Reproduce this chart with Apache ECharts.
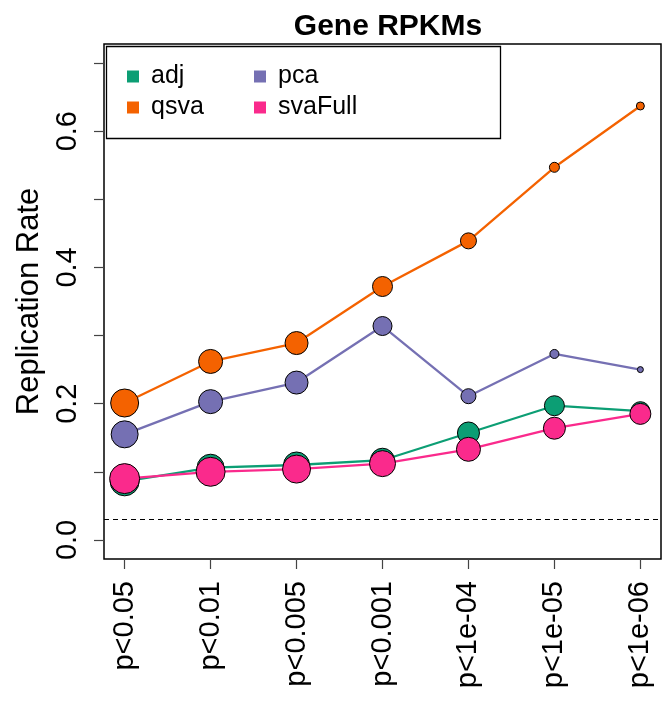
<!DOCTYPE html>
<html>
<head>
<meta charset="utf-8">
<script src="https://cdn.jsdelivr.net/npm/echarts@6/dist/echarts.min.js"></script>
<style>html,body{margin:0;padding:0;background:#fff}#c{width:667px;height:705px}</style>
</head>
<body>
<div id="c"></div>
<script>
const categories = ['p<0.05','p<0.01','p<0.005','p<0.001','p<1e-04','p<1e-05','p<1e-06'];
const adj     = [0.086, 0.106, 0.110, 0.117, 0.157, 0.197, 0.189];
const qsva    = [0.201, 0.262, 0.289, 0.372, 0.439, 0.547, 0.637];
const pca     = [0.155, 0.203, 0.231, 0.314, 0.211, 0.273, 0.250];
const svaFull = [0.090, 0.100, 0.104, 0.112, 0.133, 0.164, 0.185];
const adjSizes     = [29, 27, 26, 24, 22, 20, 19];
const qsvaSizes    = [28, 24, 23, 20, 16, 10, 8];
const pcaSizes     = [27, 24, 23, 19, 15, 9, 6];
const svaFullSizes = [30, 29, 28, 26, 24, 22, 21];
const yTicks = [0, 0.1, 0.2, 0.3, 0.4, 0.5, 0.6, 0.7];
const yLabels = [0, 0.2, 0.4, 0.6];
const nullLevel = 0.025;

const colors = {adj:'#0C9E74', qsva:'#F46200', pca:'#7570B3', svaFull:'#FA2A8C'};
const FONT = 'Liberation Sans, Arial, Helvetica, sans-serif';

function mk(name, vals, sizes) {
  return {
    name: name, type: 'line',
    data: vals.map((v, i) => [i, v]),
    symbol: 'circle',
    symbolSize: (val, p) => sizes[p.dataIndex],
    lineStyle: {color: colors[name], width: 2.3},
    itemStyle: {color: colors[name], borderColor: '#000', borderWidth: 1},
    emphasis: {disabled: true},
    clip: false
  };
}

const series = [
  mk('adj', adj, adjSizes),
  mk('qsva', qsva, qsvaSizes),
  mk('pca', pca, pcaSizes),
  mk('svaFull', svaFull, svaFullSizes)
];
series[0].markLine = {
  silent: true, symbol: 'none', label: {show: false},
  lineStyle: {color: '#000', type: [5, 4], width: 1.2},
  data: [{yAxis: nullLevel}]
};

const legendCommon = {
  orient: 'vertical', top: 59,
  itemWidth: 12, itemHeight: 12, itemGap: 6, icon: 'rect',
  itemStyle: {borderWidth: 0},
  textStyle: {fontFamily: FONT, fontSize: 25, color: '#000', padding: [0, 0, 0, 7]},
  selectedMode: false
};

const chart = echarts.init(document.getElementById('c'), null, {renderer: 'canvas'});
chart.setOption({
  animation: false,
  backgroundColor: '#fff',
  title: {
    text: 'Gene RPKMs', left: 383, top: 7, textAlign: 'center',
    textStyle: {fontFamily: FONT, fontWeight: 'bold', fontSize: 30, color: '#000'}
  },
  legend: [
    Object.assign({}, legendCommon, {data: ['adj', 'qsva'], left: 122}),
    Object.assign({}, legendCommon, {data: ['pca', 'svaFull'], left: 249})
  ],
  graphic: [{
    type: 'rect', left: 104, top: 44, z: 50,
    shape: {width: 394, height: 92},
    style: {fill: 'none', stroke: '#000', lineWidth: 1.3}
  }],
  grid: {
    left: 104, right: 6, top: 44, bottom: 146,
    show: true, borderColor: '#000', borderWidth: 1.5, backgroundColor: 'transparent'
  },
  xAxis: {
    type: 'value', min: -0.24, max: 6.24,
    splitLine: {show: false},
    axisLine: {show: false, onZero: false},
    axisTick: {show: true, customValues: categories.map((c, i) => i), length: 10, lineStyle: {color: '#444', width: 1.2}},
    axisLabel: {
      customValues: categories.map((c, i) => i),
      formatter: v => categories[Math.round(v)],
      rotate: 90, margin: 22, fontFamily: FONT, fontSize: 29, color: '#000',
      padding: [8, 0, 0, 0]
    }
  },
  yAxis: {
    type: 'value', min: -0.028, max: 0.728,
    name: 'Replication Rate', nameLocation: 'middle', nameGap: 58,
    nameTextStyle: {fontFamily: FONT, fontSize: 31, color: '#000'},
    splitLine: {show: false},
    axisLine: {show: false, onZero: false},
    axisTick: {show: true, customValues: yTicks, length: 10, lineStyle: {color: '#444', width: 1.2}},
    axisLabel: {
      customValues: yLabels,
      formatter: v => v.toFixed(1),
      rotate: 90, margin: 22, fontFamily: FONT, fontSize: 29, color: '#000'
    }
  },
  series: series
});
</script>
</body>
</html>
